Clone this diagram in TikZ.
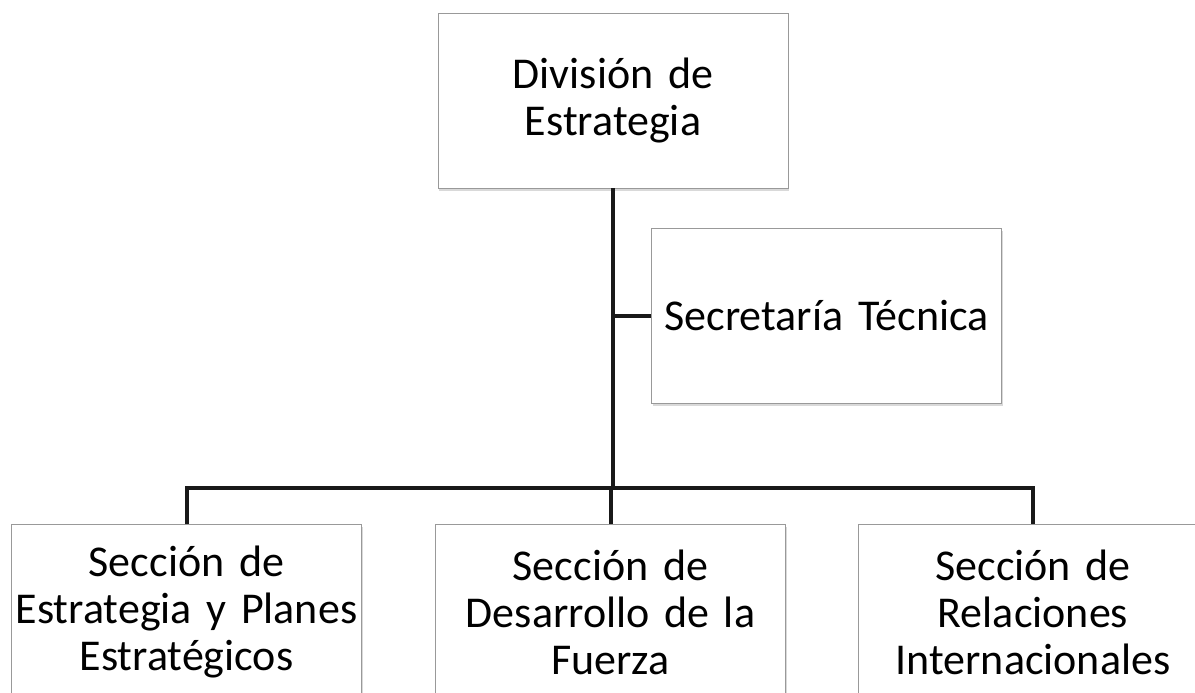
\documentclass[tikz,border=0pt]{standalone}
\usepackage{fontspec}
\setmainfont{Carlito}
\usetikzlibrary{shadows}

\begin{document}
\begin{tikzpicture} [
            x=1pt, y=-1pt,
            block/.style = { rectangle, draw=black!40, line width=0.8pt,
                             fill=white, text width=346pt, align=center,
                             inner xsep=2pt, inner ysep=0pt,
                             minimum height=175pt,
                             font=\fontsize{44}{47}\selectfont,
                             drop shadow={shadow xshift=1pt, shadow yshift=-2.5pt,
                                          opacity=0.25, fill=black!60} },
            line/.style  = { draw, line width=4pt, black!90 },
          ]
            \useasboundingbox (0,0) rectangle (1195,693);

            \node (div) [block] at (613,100.5) {División de\\Estrategia};
            \node (sec) [block] at (826.5,315.5) {Secretaría Técnica};
            \node (epe) [block] at (186.5,612) {Sección de\\Estrategia y Planes\\Estratégicos};
            \node (dfz) [block] at (610.5,612) {Sección de\\Desarrollo de la\\Fuerza};
            \node (rin) [block] at (1033,612) {Sección de\\Relaciones\\Internacionales};

            \coordinate (bus) at (612,488);

            \draw [line] (div.south) -- (div.south |- bus);
            \draw [line] (sec.west) -- (sec.west -| div.south);
            \draw [line] (epe.north) |- (bus) -| (rin.north);
            \draw [line] (dfz.north) -- (dfz.north |- bus);
\end{tikzpicture}
\end{document}
